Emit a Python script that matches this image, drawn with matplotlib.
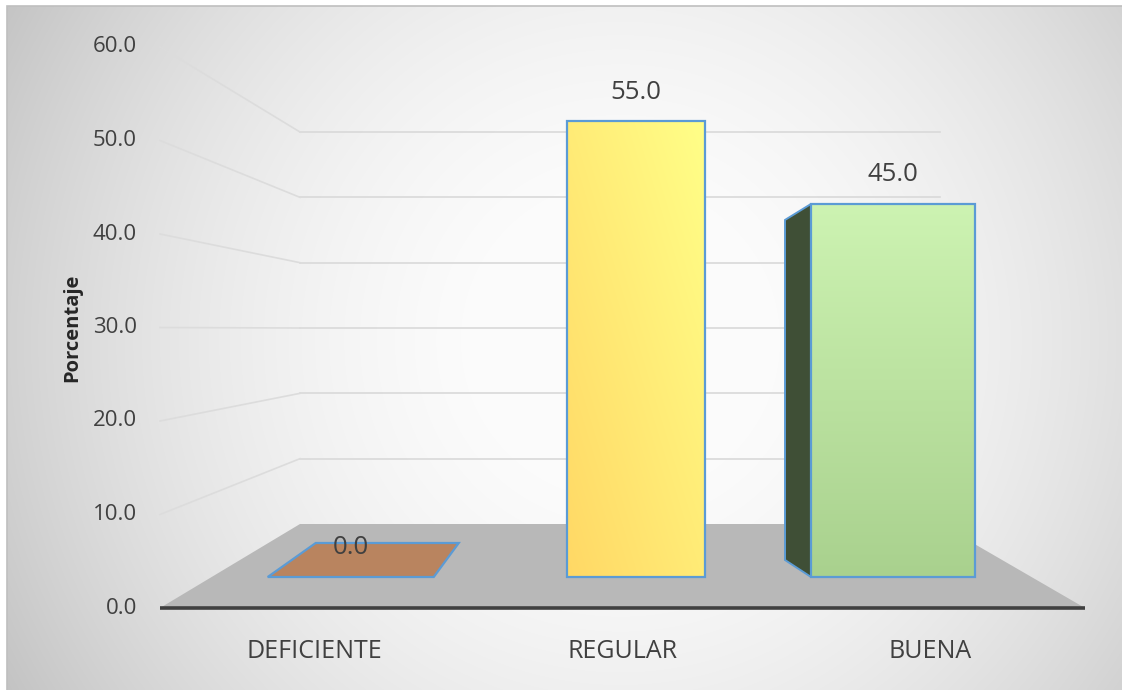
import numpy as np
import matplotlib
matplotlib.use('Agg')
import matplotlib.pyplot as plt
from matplotlib.patches import Polygon, Rectangle
from matplotlib.colors import to_rgb

# ---- data ----
categories = ['DEFICIENTE', 'REGULAR', 'BUENA']
percent = [0.0, 55.0, 45.0]
y_ticks = [0, 10, 20, 30, 40, 50, 60]
y_label = 'Porcentaje'

# ---- fake 3D layout (pixel geometry of the Excel chart) ----
W, H = 1122, 690
X_CAT1, PX_CAT = 636, 257          # bar plane: category 1 centre, px per category
Y_ZERO, PX_VAL = 577, 8.29         # bar plane: value 0, px per unit
FRONT_ZERO, FRONT_PX = 608, 9.35   # front edge of the floor / tick labels
BACK_ZERO, BACK_PX = 524, 6.533    # back wall
WALL_L_FRONT, WALL_L_BACK = 160, 300
FLOOR_R_FRONT, FLOOR_R_BACK = 1085, 940

x_pos = [-0.11, 1, 2]
widths = [0.646, 0.537, 0.638]
side_px = [0, 0, 26]
label_front_px = [314, 622, 930]

EDGE = '#5b9bd5'
TXT = '#404040'
FONT = 'Open Sans'


def cx(px):
    return 1 + (px - X_CAT1) / PX_CAT


def vy(py):
    return (Y_ZERO - py) / PX_VAL


def front_py(t):
    return FRONT_ZERO - FRONT_PX * t


def back_py(t):
    return BACK_ZERO - BACK_PX * t


def gradient(c_start, c_end, diagonal=False, n=200):
    u = np.linspace(0, 1, n)
    uu, vv = np.meshgrid(u, u)           # vv: 0 at bottom row (origin lower)
    t = (uu + vv) / 2 if diagonal else vv
    a, b = np.array(to_rgb(c_start)), np.array(to_rgb(c_end))
    return a + (b - a) * t[..., None]


plt.rcParams['font.family'] = [FONT, 'DejaVu Sans']
fig = plt.figure(figsize=(W / 100, H / 100), dpi=100)
fig.patch.set_facecolor('white')
ax = fig.add_axes([0, 0, 1, 1])
ax.set_axis_off()

# background radial gradient of the chart area
gy, gx = np.mgrid[6:H, 7:W]
d2 = (gx - 620) ** 2 + (gy - 340) ** 2
shade = np.clip(254 - 1.18e-4 * d2, 150, 252) / 255
ax.imshow(np.dstack([shade] * 3), extent=[cx(7), cx(W), vy(H), vy(6)],
          origin='upper', aspect='auto', zorder=0)
fig.patches.append(Rectangle((7 / W, -0.01), 1, 1.01 - 6 / H, transform=fig.transFigure,
                             fill=False, edgecolor='#bfbfbf', linewidth=1.2))

# walls: gridlines
for t in y_ticks[1:]:
    ax.plot([cx(WALL_L_BACK), cx(FLOOR_R_BACK)], [vy(back_py(t))] * 2,
            color='#d9d9d9', lw=1.2, zorder=1)
    ax.plot([cx(WALL_L_FRONT), cx(WALL_L_BACK)], [vy(front_py(t)), vy(back_py(t))],
            color='#dcdcdc', lw=1.2, zorder=1)

# floor
floor = Polygon([(cx(WALL_L_FRONT), vy(front_py(0))), (cx(FLOOR_R_FRONT), vy(front_py(0))),
                 (cx(FLOOR_R_BACK), vy(back_py(0))), (cx(WALL_L_BACK), vy(back_py(0)))],
                closed=True, facecolor='#b8b8b8', edgecolor='none', zorder=2)
ax.add_patch(floor)
ax.plot([cx(WALL_L_FRONT), cx(FLOOR_R_FRONT)], [vy(front_py(0))] * 2,
        color='#404040', lw=2.6, solid_capstyle='butt', zorder=3)

# tick labels on the front edge
for t in y_ticks:
    ax.text(cx(137), vy(front_py(t)), f'{t:.1f}', ha='right', va='center',
            fontsize=16, color=TXT, zorder=5)

# bars
fills = [None,
         gradient('#ffd865', '#ffff88', diagonal=True),
         gradient('#a9d18e', '#cdf3b2')]
bars = ax.bar(x_pos, percent, width=widths, facecolor='none', edgecolor=EDGE,
              linewidth=1.6, zorder=6)
for i, (bar, val) in enumerate(zip(bars, percent)):
    x0, x1 = bar.get_x(), bar.get_x() + bar.get_width()
    if val == 0:
        bar.set_visible(False)
        depth = vy(543)
        ax.add_patch(Polygon([(x0, 0), (x1, 0), (x1 + 25 / PX_CAT, depth),
                              (x0 + 48 / PX_CAT, depth)], closed=True,
                             facecolor='#b9845f', edgecolor=EDGE, lw=1.6, zorder=5))
        continue
    im = ax.imshow(fills[i], extent=[x0, x1, 0, val], origin='lower',
                   aspect='auto', zorder=5)
    im.set_clip_path(bar)
    if side_px[i]:
        dx = side_px[i] / PX_CAT
        ax.add_patch(Polygon([(x0 - dx, val - 16 / PX_VAL), (x0, val), (x0, 0),
                              (x0 - dx, 17 / PX_VAL)], closed=True,
                             facecolor='#3f4f36', edgecolor=EDGE, lw=1.4, zorder=5))

# value labels
for bar, val in zip(bars, percent):
    xc = bar.get_x() + bar.get_width() / 2
    ax.text(xc, val + 29 / PX_VAL, f'{val:.1f}', ha='center', va='center',
            fontsize=18.5, color=TXT, zorder=7)

# category labels and axis title
for name, px in zip(categories, label_front_px):
    ax.text(cx(px), vy(651), name, ha='center', va='center', fontsize=18,
            color=TXT, zorder=7)
ax.text(cx(72), vy(328), y_label, rotation=90, ha='center', va='center',
        fontsize=14.5, fontweight='bold', color='#262626', zorder=7)

ax.set_xlim(cx(0), cx(W))
ax.set_ylim(vy(H), vy(0))

fig.savefig('out.png', dpi=100, facecolor=fig.get_facecolor())
